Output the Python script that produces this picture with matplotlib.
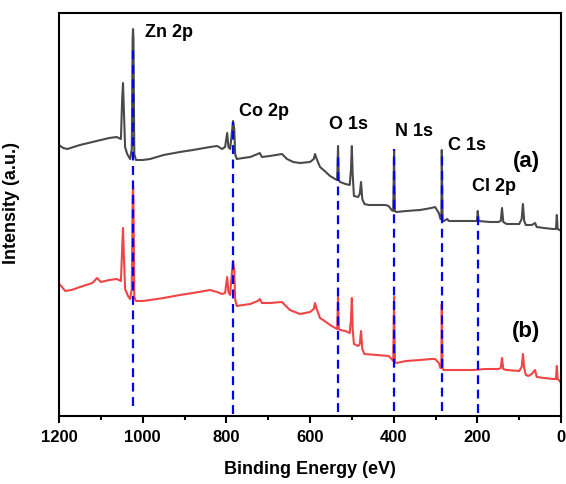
import matplotlib.pyplot as plt
from matplotlib.ticker import MultipleLocator

plt.rcParams['font.family'] = ['Liberation Sans', 'DejaVu Sans']
plt.rcParams['font.weight'] = 'bold'

# binding energy (eV) and intensity (a.u.)
be_a = [1200, 1190, 1180, 1150, 1120, 1100, 1080, 1062, 1052, 1049, 1047, 1045,
        1042, 1037, 1030, 1026, 1024, 1023, 1022, 1020, 1016, 1000, 982, 950,
        911, 880, 839, 822, 810, 803, 798, 795, 791, 787, 784, 781, 779, 775,
        760, 743, 725, 720, 715, 696, 667, 655, 640, 624, 600, 591, 588, 584,
        576, 565, 552, 540, 535, 533, 531, 528, 515, 505, 502, 500, 498, 495,
        485, 481, 478, 475, 470, 460, 440, 420, 412, 405, 401, 399, 397, 394,
        370, 337, 310, 301, 292, 288, 286, 285, 283, 280, 272, 268, 240, 210,
        201, 199, 197, 170, 150, 144, 141, 138, 130, 100, 94, 91, 88, 84, 70,
        62, 58, 40, 20, 12, 10, 8, 3, 0]
int_a = [274, 271, 270, 274, 277, 279, 281, 282, 280, 320, 336, 310,
         272, 265, 260, 270, 380, 390, 380, 265, 259, 259, 260, 264,
         267, 269, 272, 273, 270, 272, 286, 272, 270, 285, 298, 290, 265, 260,
         261, 262, 265, 266, 262, 263, 265, 260, 257, 256, 257, 260, 265, 260,
         252, 248, 243, 240, 239, 273, 239, 237, 235, 234, 250, 273, 245, 223,
         222, 225, 237, 220, 215, 214, 214, 214, 213, 209, 208, 269, 208, 207,
         208, 209, 211, 212, 206, 200, 200, 269, 199, 198, 200, 198, 198, 198,
         198, 208, 198, 197, 197, 198, 211, 197, 195, 195, 200, 215, 198, 194, 194,
         196, 192, 191, 190, 190, 204, 190, 189, 188]

be_b = [1200, 1195, 1185, 1170, 1150, 1120, 1109, 1100, 1080, 1062, 1052, 1049,
        1047, 1045, 1042, 1035, 1030, 1026, 1024, 1023, 1022, 1020, 1016, 1000,
        982, 950, 911, 880, 839, 822, 810, 803, 798, 795, 791, 787, 784, 781,
        779, 775, 760, 743, 725, 720, 715, 696, 667, 660, 648, 624, 600, 591,
        588, 584, 576, 565, 552, 540, 535, 533, 531, 528, 515, 505, 502, 500,
        498, 495, 485, 481, 478, 475, 470, 440, 412, 405, 401, 399, 397, 394,
        370, 337, 310, 301, 292, 288, 286, 285, 283, 280, 250, 210, 180, 150,
        144, 141, 138, 130, 100, 94, 91, 88, 84, 78, 70, 62, 58, 40, 20, 12,
        10, 8, 3, 0]
int_b = [135, 133, 128, 129, 132, 136, 141, 137, 139, 140, 138, 170,
         191, 165, 130, 123, 120, 130, 220, 233, 220, 122, 118, 118,
         119, 121, 124, 126, 129, 127, 125, 126, 142, 127, 124, 145, 158, 148,
         120, 113, 114, 115, 118, 120, 116, 116, 117, 114, 109, 105, 107, 110,
         116, 110, 101, 98, 94, 91, 90, 122, 90, 89, 88, 86, 100, 121,
         90, 75, 73, 75, 88, 70, 65, 64, 63, 60, 58, 122, 57, 56,
         58, 59, 60, 60, 56, 51, 51, 115, 50, 49, 49, 49, 50, 50,
         51, 61, 50, 49, 48, 52, 65, 51, 44, 43, 45, 49, 42, 41, 40, 40,
         53, 40, 38, 36]

# assigned peaks: position, top and bottom of the guide line
peak_names = ['Zn 2p', 'Co 2p', 'O 1s', 'N 1s', 'C 1s', 'Cl 2p']
peak_be = [1023, 784, 533, 399, 285, 199]
guide_top = [370, 297, 267, 270, 268, 208]
guide_bottom = [13, 5, 7, 8, 8, 6]
label_x = [994, 770, 555, 397, 270, 213]
label_y = [387, 308, 295, 288, 274, 233]

fig = plt.figure(figsize=(5.66, 4.85), dpi=100)
ax = fig.add_axes([59 / 566, (485 - 416.5) / 485, 502 / 566, 402.5 / 485])

ax.plot(be_a, int_a, color='#4a4a4a', lw=1.5, zorder=2)
ax.plot(be_b, int_b, color='#f04545', lw=1.5, zorder=2)

for x, top, bot in zip(peak_be, guide_top, guide_bottom):
    ax.plot([x, x], [bot, top], color='#0000ff', lw=1.6,
            linestyle=(0, (4, 2.5)), zorder=3)

for name, x, y in zip(peak_names, label_x, label_y):
    ax.text(x, y, name, fontsize=13, fontweight='bold', ha='left', va='center')

ax.text(115, 258, '(a)', fontsize=16, fontweight='bold', ha='left', va='center')
ax.text(117, 88, '(b)', fontsize=16, fontweight='bold', ha='left', va='center')

ax.set_xlim(1200, 0)
ax.set_ylim(3.5, 406)
ax.xaxis.set_major_locator(MultipleLocator(200))
ax.xaxis.set_minor_locator(MultipleLocator(100))
ax.set_yticks([])
ax.tick_params(axis='x', which='major', length=5, width=1.5, direction='out',
               labelsize=12, pad=5)
ax.tick_params(axis='x', which='minor', length=3, width=1.5, direction='out')
for lab in ax.get_xticklabels():
    lab.set_fontweight('bold')
for sp in ax.spines.values():
    sp.set_linewidth(1.5)

ax.set_xlabel('Binding Energy (eV)', fontsize=13, fontweight='bold', labelpad=11)
ax.set_ylabel('Intensity (a.u.)', fontsize=13, fontweight='bold')
ax.yaxis.set_label_coords(-0.077, 0.53)

fig.savefig('out.png', dpi=100)
